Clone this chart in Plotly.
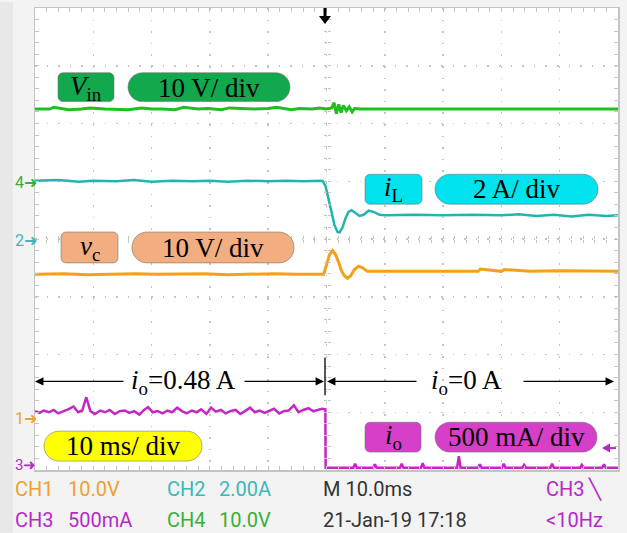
import plotly.graph_objects as go

# ---------------- data (time in ms, amplitude in divisions) ----------------
vin_t = [-50, -47.5, -46.8, -45, -44.2, -42, -40.6, -38, -36.5, -34, -31.7, -30, -28.2, -26, -24.5,
         -22, -20.3, -18, -16.7, -14, -12.4, -10, -8.6, -6, -4.7, -2.5, -1.2, 0, 0.9, 1.3,
         1.7, 2.1, 2.5, 2.9, 3.4, 3.9, 4.4, 4.8, 6, 15, 25, 35, 45, 50]
vin_v = [2.25, 2.25, 2.28, 2.25, 2.24, 2.25, 2.27, 2.25, 2.25, 2.24, 2.27, 2.25, 2.25, 2.24, 2.28,
         2.25, 2.26, 2.24, 2.27, 2.25, 2.25, 2.26, 2.28, 2.24, 2.26, 2.25, 2.27, 2.25, 2.27, 2.36,
         2.17, 2.33, 2.19, 2.31, 2.22, 2.29, 2.2, 2.26, 2.25, 2.25, 2.25, 2.25, 2.25, 2.25]

il_t = [-50, -46, -42.5, -40, -36, -33, -30, -26.5, -23, -20, -17, -13.5, -10, -7, -4,
        -0.7, -0.17, 0.34, 0.86, 1.37, 1.89, 2.23, 2.75, 3.26, 3.78, 4.3, 4.98, 5.67, 6.36, 7.22,
        8.08, 9.1, 10.1, 15, 20, 25, 30, 33, 36, 39, 42, 45, 48, 50]
il_v = [1.01, 1.02, 0.99, 1.01, 1.0, 1.02, 0.99, 1.01, 1.0, 1.01, 0.99, 1.01, 1.0, 1.01, 1.0,
        1.01, 0.92, 0.72, 0.47, 0.24, 0.12, 0.11, 0.2, 0.36, 0.47, 0.5, 0.45, 0.4, 0.42, 0.49,
        0.47, 0.42, 0.41, 0.42, 0.41, 0.42, 0.41, 0.43, 0.4, 0.42, 0.39, 0.42, 0.4, 0.41]

vc_t = [-50, -45, -41, -37, -33, -29, -25, -21, -17, -13, -9, -5, -0.5, 0, 0.52,
        1.03, 1.55, 2.06, 2.58, 3.09, 3.6, 4.1, 4.8, 5.5, 6.2, 7.0, 8.1, 12, 18, 22,
        26, 26.4, 30, 30.5, 35, 40, 45, 50]
vc_v = [-0.61, -0.6, -0.62, -0.61, -0.6, -0.61, -0.61, -0.6, -0.62, -0.61, -0.6, -0.61, -0.61, -0.45, -0.27,
        -0.2, -0.27, -0.4, -0.55, -0.64, -0.68, -0.64, -0.53, -0.47, -0.5, -0.56, -0.56, -0.56, -0.55, -0.56,
        -0.56, -0.52, -0.56, -0.53, -0.56, -0.55, -0.56, -0.56]

io_t_hi = [-50, -49.2, -48.5, -47.6, -46.8, -46, -45.1, -44.3, -43.4, -42.6,
           -41.9, -41.2, -40.5, -39.7, -38.8, -38, -37.2, -36.3, -35.5, -34.6,
           -33.8, -33, -32.1, -31.3, -30.6, -29.8, -29, -28.1, -27.3, -26.5,
           -25.6, -24.8, -24, -23.1, -22.3, -21.5, -20.6, -19.8, -19, -18.1,
           -17.3, -16.5, -15.6, -14.8, -14, -13.1, -12.3, -11.5, -10.6, -9.8,
           -9, -8.1, -7.3, -6.5, -5.6, -4.8, -4, -3.1, -2.3, -1.5,
           -0.8, -0.2]
io_v_hi = [-2.98, -3.01, -2.97, -3.0, -2.96, -3.02, -2.98, -2.95, -2.9, -3.0,
           -2.97, -2.74, -2.98, -3.03, -2.97, -3.0, -2.96, -3.03, -2.98, -2.97,
           -3.01, -2.98, -3.04, -2.96, -2.91, -3.0, -2.98, -3.02, -2.97, -3.0,
           -2.92, -2.98, -3.02, -2.97, -3.0, -2.95, -3.03, -2.92, -2.99, -2.96,
           -3.02, -2.98, -2.96, -3.03, -2.98, -2.92, -3.0, -2.97, -3.01, -2.97,
           -2.94, -3.02, -2.98, -2.97, -2.88, -3.0, -2.96, -2.93, -2.98, -2.96,
           -2.94, -2.95]
io_t_lo = [-0.15,
           4.6, 4.9, 5.2, 8.0, 8.3, 8.6, 12.6, 12.9, 13.2, 16.2, 16.5, 16.8,
           22.4, 22.7, 23.0, 26.0, 26.3, 26.6, 30.1, 30.4, 30.7, 33.6, 33.9, 34.2,
           38.4, 38.7, 39.0, 43.5, 43.8, 44.1, 47.3, 47.6, 47.9,
           50]
io_v_lo = [-3.96,
           -3.96, -3.89, -3.96, -3.96, -3.9, -3.96, -3.96, -3.89, -3.96, -3.96, -3.88, -3.96,
           -3.96, -3.76, -3.96, -3.96, -3.9, -3.96, -3.96, -3.89, -3.96, -3.96, -3.91, -3.96,
           -3.96, -3.89, -3.96, -3.96, -3.91, -3.96, -3.96, -3.9, -3.96,
           -3.96]

# readout texts (label, value) per block
readout_row1 = [('CH1', '10.0V'), ('CH2', '2.00A'), ('M 10.0ms', ''), ('CH3 ╲', '')]
readout_row2 = [('CH3', '500mA'), ('CH4', '10.0V'), ('21-Jan-19 17:18', ''), ('<10Hz', '')]

# ---------------- styles ----------------
GREEN, TEAL, ORANGE, MAGENTA = '#1fbf1f', '#22b5b0', '#f6a01a', '#c527c5'
VIN_BOX, IL_BOX, VC_BOX, IO_BOX, YEL = '#12a84e', '#00e3ee', '#f2ad80', '#d640c8', '#ffff00'
C_CH1, C_CH2, C_CH3, C_CH4, C_DARK = '#f0a030', '#3cb8b8', '#b828c8', '#38b038', '#333333'
GRID = '#c4c4c4'
SERIF = 'Liberation Serif'
SCOPE = 'Roboto, sans-serif'

W, H = 627, 533
X0, X1, Y0, Y1 = 35, 618, 6, 470


def tx(px):
    return -50 + (px - X0) / (X1 - X0) * 100


def dy(py):
    return 4 - (py - Y0) / (Y1 - Y0) * 8


def xp(px):
    return (px - X0) / (X1 - X0)


def yp(py):
    return (Y1 - py) / (Y1 - Y0)


def path_px(cmds):
    out = []
    for c in cmds:
        if isinstance(c, str):
            out.append(c)
        else:
            out.append(f"{tx(c[0]):.4f},{dy(c[1]):.4f}")
    return ' '.join(out)


def rrect(x0, y0, x1, y1, r):
    k = 0.5523 * r
    cmds = ['M', (x0 + r, y0), 'L', (x1 - r, y0),
            'C', (x1 - r + k, y0), (x1, y0 + r - k), (x1, y0 + r),
            'L', (x1, y1 - r),
            'C', (x1, y1 - r + k), (x1 - r + k, y1), (x1 - r, y1),
            'L', (x0 + r, y1),
            'C', (x0 + r - k, y1), (x0, y1 - r + k), (x0, y1 - r),
            'L', (x0, y0 + r),
            'C', (x0, y0 + r - k), (x0 + r - k, y0), (x0 + r, y0), 'Z']
    return path_px(cmds)


fig = go.Figure()
# empty traces to activate the centre graticule axes
for xa, ya in [('x2', 'y'), ('x3', 'y'), ('x', 'y2'), ('x', 'y3')]:
    fig.add_trace(go.Scatter(x=[], y=[], xaxis=xa, yaxis=ya, hoverinfo='skip'))
fig.add_trace(go.Scatter(x=vin_t, y=vin_v, mode='lines', line=dict(color=GREEN, width=3), hoverinfo='skip'))
fig.add_trace(go.Scatter(x=il_t, y=il_v, mode='lines', line=dict(color=TEAL, width=2.5), hoverinfo='skip'))
fig.add_trace(go.Scatter(x=vc_t, y=vc_v, mode='lines', line=dict(color=ORANGE, width=3), hoverinfo='skip'))
fig.add_trace(go.Scatter(x=io_t_hi + io_t_lo, y=io_v_hi + io_v_lo, mode='lines',
                         line=dict(color=MAGENTA, width=2.5), hoverinfo='skip'))

shapes = []
# background strip at far left
shapes.append(dict(type='rect', xref='paper', yref='paper', x0=xp(0), x1=xp(13), y0=yp(H), y1=yp(0),
                   fillcolor='#e8e8e8', line=dict(width=0), layer='below'))

# label boxes
boxes = [
    (58, 71, 114, 100, 5, VIN_BOX), (128, 71, 290, 100, 14.5, VIN_BOX),
    (365, 173, 422, 203, 5, IL_BOX), (435, 173, 598, 203, 15, IL_BOX),
    (61, 231, 118, 262, 5, VC_BOX), (132, 231, 294, 262, 15, VC_BOX),
    (365, 422, 421, 452, 5, IO_BOX), (435, 422, 597, 452, 15, IO_BOX),
    (44, 431, 202, 461, 15, YEL),
]
for (a, b, c, d, r, col) in boxes:
    shapes.append(dict(type='path', path=rrect(a, b, c, d, r), fillcolor=col,
                       line=dict(color='rgba(110,110,110,0.55)', width=1), layer='above'))

# divider line for io annotation
shapes.append(dict(type='line', x0=tx(325), x1=tx(325), y0=dy(357), y1=dy(395),
                   line=dict(color='black', width=1.3)))
# trigger position arrow at top
shapes.append(dict(type='path', path=path_px(['M', (323.5, 6), 'L', (326.5, 6), 'L', (326.5, 14),
                                               'L', (331, 14), 'L', (325, 22), 'L', (319, 14),
                                               'L', (323.5, 14), 'Z']),
                   fillcolor='black', line=dict(width=0)))
# trigger level marker at right
shapes.append(dict(type='path', path=path_px(['M', (602, 448), 'L', (610, 443.5), 'L', (610, 452.5), 'Z']),
                   fillcolor=C_CH3, line=dict(width=0)))
shapes.append(dict(type='line', x0=tx(608), x1=tx(616), y0=dy(448), y1=dy(448),
                   line=dict(color=C_CH3, width=2)))

annotations = []


def txt(px, py, text, size, color='black', family=SERIF, xanchor='center'):
    annotations.append(dict(x=xp(px), y=yp(py), xref='paper', yref='paper', text=text, showarrow=False,
                            xanchor=xanchor, yanchor='middle',
                            font=dict(family=family, size=size, color=color)))


txt(86, 86, '<i>V</i><sub>in</sub>', 27)
txt(209, 86, '10 V/ div', 27)
txt(393.5, 188, '<i>i</i><sub>L</sub>', 27)
txt(516.5, 188, '2 A/ div', 27)
txt(89.5, 247, '<i>v</i><sub>c</sub>', 27)
txt(213, 247, '10 V/ div', 27)
txt(393, 437, '<i>i</i><sub>o</sub>', 27)
txt(516, 437, '500 mA/ div', 27)
txt(123, 446, '10 ms/ div', 27)
txt(183, 382, '<i>i</i><sub>o</sub>=0.48 A', 27)
txt(466, 382, '<i>i</i><sub>o</sub>=0 A', 27)


def arrow(hx, tx_, y):
    annotations.append(dict(x=tx(hx), y=dy(y), ax=tx(tx_), ay=dy(y), axref='x', ayref='y',
                            xref='x', yref='y', text='', showarrow=True, arrowhead=2,
                            arrowsize=1.3, arrowwidth=1.3, arrowcolor='black', standoff=0, startstandoff=0))


arrow(35, 125, 381)
arrow(324, 243, 381)
arrow(327, 418, 381)
arrow(614, 522, 381)

# channel ground markers
txt(13, 181, '4➜', 16, C_CH4, SCOPE, 'left')
txt(13, 240, '2➜', 16, C_CH2, SCOPE, 'left')
txt(13, 418, '1➜', 16, C_CH1, SCOPE, 'left')
txt(13, 465, '3➜', 15, C_CH3, SCOPE, 'left')

# readout
label_x = [13, 165, 321, 544]
value_x = [66, 217, None, None]
row1_c = [C_CH1, C_CH2, C_DARK, C_CH3]
row2_c = [C_CH3, C_CH4, C_DARK, C_CH3]
for row, py, cols in [(readout_row1, 489, row1_c), (readout_row2, 520, row2_c)]:
    for i, (lab, val) in enumerate(row):
        txt(label_x[i], py, lab, 20, cols[i], SCOPE, 'left')
        if val:
            txt(value_x[i], py, val, 20, cols[i], SCOPE, 'left')

axis_common = dict(showticklabels=False, showline=True, linecolor=GRID, linewidth=1.5, mirror='ticks',
                   ticks='inside', ticklen=4, tickcolor=GRID, tickwidth=1,
                   showgrid=True, gridcolor=GRID, gridwidth=1.5, griddash='1.5px,10.1px',
                   zeroline=False, fixedrange=True)
centre_common = dict(showticklabels=False, showline=False, showgrid=False, zeroline=False,
                     ticklen=3, tickcolor=GRID, tickwidth=1, fixedrange=True,
                     anchor='free', position=0.5)

fig.update_layout(
    width=W, height=H, autosize=False,
    margin=dict(l=X0, r=W - X1, t=Y0, b=H - Y1, pad=0),
    paper_bgcolor='#f3f3f3', plot_bgcolor='white',
    showlegend=False,
    xaxis=dict(range=[-50, 50], tick0=-50, dtick=10,
               minor=dict(dtick=2, ticks='inside', ticklen=4, tickcolor=GRID, showgrid=False), **axis_common),
    yaxis=dict(range=[-4, 4], tick0=-4, dtick=1,
               minor=dict(dtick=0.2, ticks='inside', ticklen=4, tickcolor=GRID, showgrid=False), **axis_common),
    xaxis2=dict(overlaying='x', range=[-50, 50], tick0=-50, dtick=2, ticks='inside', **centre_common),
    xaxis3=dict(overlaying='x', range=[-50, 50], tick0=-50, dtick=2, ticks='outside', **centre_common),
    yaxis2=dict(overlaying='y', range=[-4, 4], tick0=-4, dtick=0.2, ticks='inside', **centre_common),
    yaxis3=dict(overlaying='y', range=[-4, 4], tick0=-4, dtick=0.2, ticks='outside', **centre_common),
    shapes=shapes, annotations=annotations,
)

fig.write_html('out.html', config={'displayModeBar': False, 'staticPlot': True})
